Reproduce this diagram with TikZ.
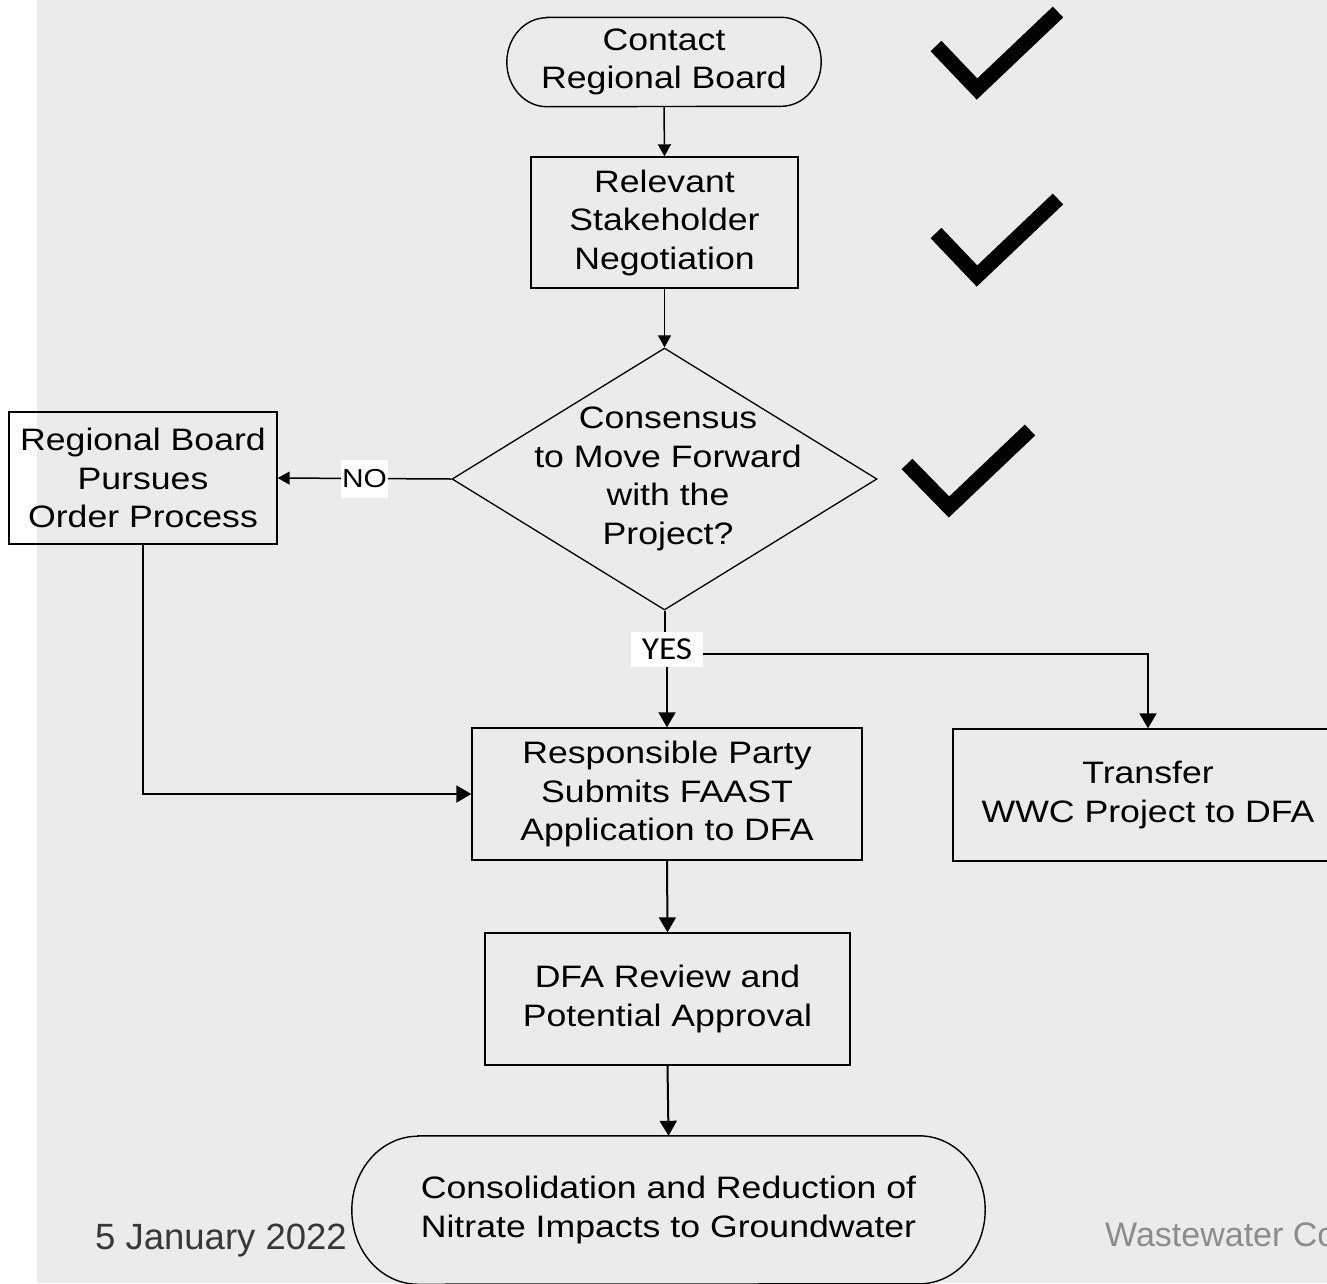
\documentclass[tikz,border=0pt]{standalone}
\usepackage{fontspec}
\setmainfont{Liberation Sans}
\newfontfamily\labfont{Liberation Sans}[FakeStretch=1.15]
\newfontfamily\yesfont{Carlito}[FakeStretch=1.1]
\usetikzlibrary{arrows.meta,shapes.geometric}
\definecolor{bggray}{HTML}{EBEBEB}
\definecolor{dategray}{HTML}{383838}
\definecolor{footgray}{HTML}{8C8C8C}
\begin{document}
\begin{tikzpicture}[x=1pt,y=-1pt,
  txt/.style={align=center, inner sep=0pt, font=\labfont\fontsize{31}{38.5}\selectfont},
  box/.style={txt, draw, line width=1.4pt},
  outl/.style={line width=1.4pt},
  dia/.style={diamond, draw, line width=1.3pt, inner sep=0pt, minimum width=425pt, minimum height=262pt},
  arrs/.style={line width=1.5pt, -{Triangle[length=12pt,width=13pt]}},
  arrl/.style={line width=2pt, -{Triangle[length=15pt,width=17pt]}},
  nolab/.style={fill=white, inner sep=1pt, minimum width=47pt, minimum height=38pt, font=\labfont\fontsize{26}{30}\selectfont},
  yeslab/.style={fill=white, inner sep=1pt, minimum width=72pt, minimum height=35pt, font=\yesfont\fontsize{32}{36}\selectfont},
  check/.style={line width=15pt, miter limit=10, line join=miter}
]
\clip (0,0) rectangle (1327,1283);
\fill[bggray] (37,0) rectangle (1327,1283);

% start terminator
\node[txt, minimum width=314pt, minimum height=89pt] (start) at (664,62) {Contact\\Regional Board};
\draw[outl] ([xshift=40pt]start.north west) -- ([xshift=-40pt]start.north east)
  arc[start angle=90, end angle=-90, x radius=40pt, y radius=44.5pt]
  -- ([xshift=40pt]start.south west)
  arc[start angle=270, end angle=90, x radius=40pt, y radius=44.5pt] -- cycle;

\node[box, minimum width=267pt, minimum height=131pt] (rel) at (664.5,222.5) {Relevant\\Stakeholder\\Negotiation};

\node[dia] (dec) at (664.5,479) {};
\node[txt] (dectext) at (668,479) {Consensus\\to Move Forward\\with the\\Project?};

\node[box, minimum width=268pt, minimum height=132pt] (left) at (143,478) {Regional Board\\Pursues\\Order Process};

\node[box, minimum width=390pt, minimum height=132pt] (resp) at (667,794) {Responsible Party\\Submits FAAST\\Application to DFA};

\node[box, minimum width=390pt, minimum height=132pt] (trans) at (1148,795) {Transfer\\WWC Project to DFA};

\node[box, minimum width=365pt, minimum height=132pt] (dfa) at (667.5,999) {DFA Review and\\Potential Approval};

% end terminator
\node[txt, minimum width=633pt, minimum height=148pt] (end) at (668.5,1210) {Consolidation and Reduction of\\Nitrate Impacts to Groundwater};
\draw[outl] ([xshift=66pt]end.north west) -- ([xshift=-66pt]end.north east)
  arc[start angle=90, end angle=-90, x radius=66pt, y radius=74pt]
  -- ([xshift=66pt]end.south west)
  arc[start angle=270, end angle=90, x radius=66pt, y radius=74pt] -- cycle;

\node[yeslab] (yes) at (667,649.5) {YES};

% connectors
\draw[arrs] (start.south) -- (rel.north);
\draw[arrs] (rel.south) -- (dec.north);
\draw[arrs] (dec.west) -- node[nolab] (no) {NO} (left.east);
\draw[arrl] (left.south) |- (resp.west);
\draw[line width=2pt] (dec.south) -- (dec.south |- yes.north);
\draw[arrl] (yes.south) -- (resp.north);
\draw[arrl] ([yshift=-4pt]yes.east) -| (trans.north);
\draw[arrl] (resp.south) -- (dfa.north);
\draw[arrl] (dfa.south) -- (end.north);

% check marks
\draw[check] (936,46) -- (977,89) -- (1058,12);
\draw[check] (936,233) -- (977,276) -- (1058,199);
\draw[check] (907,464) -- (949,507) -- (1030,430);

% footer
\node[anchor=base west, inner sep=0pt, text=dategray, font=\fontsize{36.5}{40}\selectfont] (date) at (95,1249) {5 January 2022};
\node[anchor=base west, inner sep=0pt, text=footgray, font=\fontsize{34}{40}\selectfont] (foot) at (1105,1246) {Wastewater Co};
\end{tikzpicture}
\end{document}
